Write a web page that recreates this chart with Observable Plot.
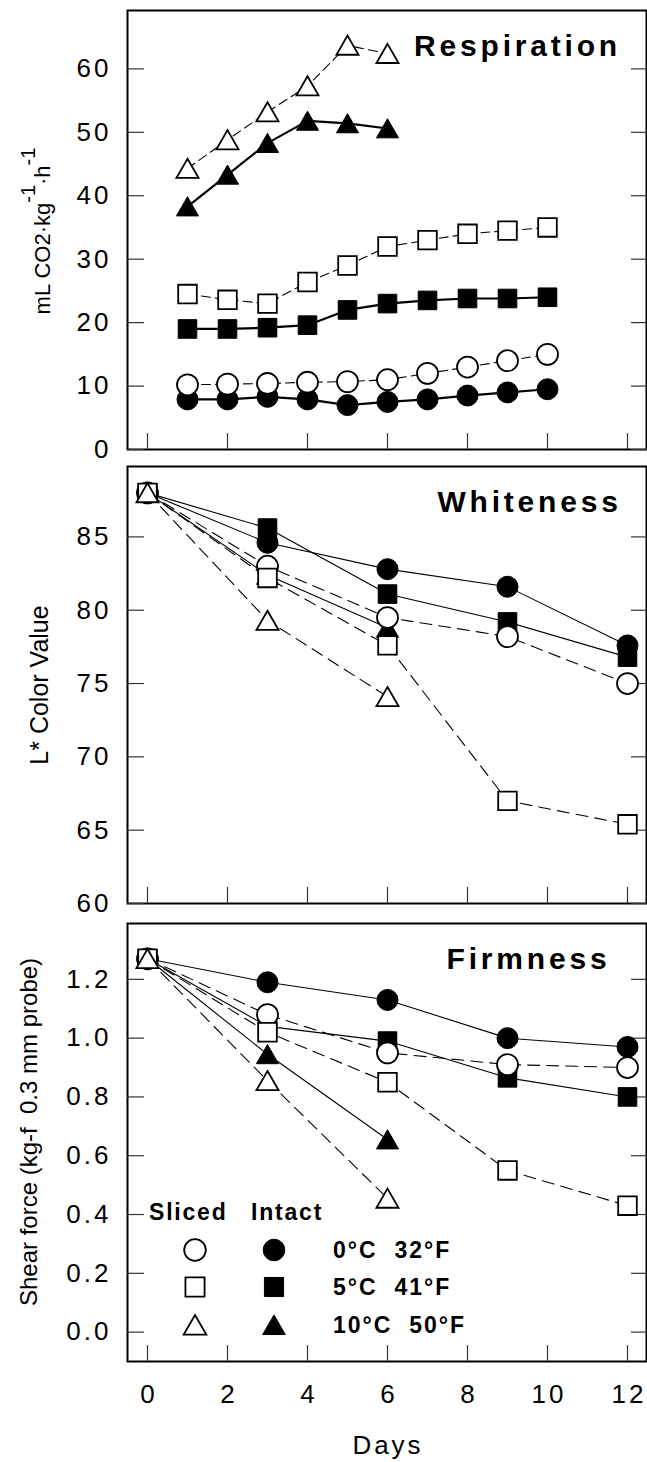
<!DOCTYPE html>
<html>
<head>
<meta charset="utf-8">
<script src="https://cdn.jsdelivr.net/npm/d3@7"></script>
<script src="https://cdn.jsdelivr.net/npm/@observablehq/plot@0.6"></script>
<style>
html, body { margin: 0; padding: 0; background: #fff; }
#chart { position: relative; width: 647px; height: 1462px; overflow: hidden; }
#chart svg { display: block; }
</style>
</head>
<body>
<div id="chart"></div>
<script>
// ---------- DATA ----------
const respDays      = [1, 2, 3, 4, 5, 6, 7, 8, 9, 10];
const respDays10C   = [1, 2, 3, 4, 5, 6];
const respSliced0C  = [10.2, 10.3, 10.4, 10.6, 10.7, 11.0, 12.0, 13.0, 14.0, 15.0];
const respIntact0C  = [7.9, 7.9, 8.3, 7.9, 7.0, 7.5, 7.9, 8.5, 9.0, 9.5];
const respSliced5C  = [24.5, 23.6, 23.0, 26.4, 29.0, 32.0, 33.0, 34.0, 34.5, 35.0];
const respIntact5C  = [19.0, 19.0, 19.2, 19.6, 22.0, 23.0, 23.5, 23.8, 23.8, 24.0];
const respSliced10C = [44.3, 48.8, 53.2, 57.3, 63.7, 62.4];
const respIntact10C = [38.3, 43.3, 48.3, 51.8, 51.4, 50.6];

const qualDays    = [0, 3, 6, 9, 12];
const qualDays10C = [0, 3, 6];
const whiteSliced0C  = [88, 83.0, 79.5, 78.2, 75.0];
const whiteIntact0C  = [88, 84.6, 82.8, 81.6, 77.6];
const whiteSliced5C  = [88, 82.2, 77.6, 67.0, 65.4];
const whiteIntact5C  = [88, 85.6, 81.1, 79.2, 76.8];
const whiteSliced10C = [88, 79.3, 74.1];
const whiteIntact10C = [88, 82.4, 78.8];

const firmSliced0C  = [1.27, 1.08, 0.95, 0.91, 0.90];
const firmIntact0C  = [1.27, 1.19, 1.13, 1.00, 0.97];
const firmSliced5C  = [1.27, 1.02, 0.85, 0.55, 0.43];
const firmIntact5C  = [1.27, 1.04, 0.99, 0.865, 0.80];
const firmSliced10C = [1.27, 0.855, 0.455];
const firmIntact10C = [1.27, 0.945, 0.655];

const respTicks  = [0, 10, 20, 30, 40, 50, 60];
const whiteTicks = [60, 65, 70, 75, 80, 85];
const firmTicks  = [0, 0.2, 0.4, 0.6, 0.8, 1.0, 1.2];
const dayTicks   = [0, 2, 4, 6, 8, 10, 12];

const legendHeaders = ["Sliced", "Intact"];
const legendLabels  = ["0°C\u00A0\u00A032°F", "5°C\u00A0\u00A041°F", "10°C\u00A0\u00A050°F"];

// ---------- HELPERS ----------
const FONT = "'Liberation Sans', Arial, Helvetica, sans-serif";
const W = 647, ML = 127, MR = 1;
const X_DOMAIN = [-0.5, 12.475];
const TICK_FONT = 26;

const kinds = [
  {id: "i10", symbol: "triangle", filled: true},
  {id: "i0",  symbol: "circle",   filled: true},
  {id: "i5",  symbol: "square",   filled: true},
  {id: "s0",  symbol: "circle",   filled: false},
  {id: "s5",  symbol: "square",   filled: false},
  {id: "s10", symbol: "triangle", filled: false}
];

function rows(days, values) {
  return days.map((d, i) => ({day: d, value: values[i]}));
}

function panel(o) {
  const marks = [];
  for (const k of kinds) {
    marks.push(Plot.line(o.data[k.id], {
      x: "day", y: "value", stroke: "black",
      strokeWidth: k.filled ? o.intactWidth : 1.1,
      strokeDasharray: k.filled ? undefined : o.dash
    }));
  }
  marks.push(Plot.frame({stroke: "black", strokeWidth: 2}));
  marks.push(Plot.axisY({anchor: "left", ticks: o.yTicks, tickSize: -17, fill: "none", stroke: "#333", strokeWidth: 1.2, label: null}));
  marks.push(Plot.axisY({anchor: "right", ticks: o.yTicks, tickSize: -16, fill: "none", stroke: "#333", strokeWidth: 1.2, label: null}));
  marks.push(Plot.axisY({anchor: "left", ticks: o.yTicks, tickSize: 0, tickPadding: 16, tickFormat: o.yFormat, fill: "black", fontSize: TICK_FONT, label: null}));
  marks.push(Plot.axisX({anchor: "bottom", ticks: dayTicks, tickSize: -16, fill: "none", stroke: "#333", strokeWidth: 1.2, label: null}));
  if (o.bottomLabels) {
    marks.push(Plot.axisX({anchor: "bottom", ticks: dayTicks, tickSize: 0, tickPadding: 23, dx: 1.5, fill: "black", fontSize: TICK_FONT, label: null}));
    marks.push(Plot.text(["Days"], {text: d => d, frameAnchor: "bottom", dx: 1, dy: 92, lineAnchor: "bottom", fill: "black", fontSize: 26}));
  }
  for (const k of kinds) {
    const tri = k.symbol === "triangle";
    marks.push(Plot.dot(o.data[k.id], {
      x: "day", y: "value", symbol: k.symbol,
      r: tri ? 8.2 : 10.5,
      fill: k.filled ? "black" : "white",
      stroke: "black", strokeWidth: k.filled ? 1 : 1.8,
      dy: tri ? 3 : 0
    }));
  }
  marks.push(Plot.text([o.title], {
    text: d => d, frameAnchor: "top-left", dx: o.titleDx, dy: 45,
    textAnchor: "middle", lineAnchor: "bottom", fontSize: 30, fontWeight: "bold", fill: "black"
  }));
  const svg = Plot.plot({
    width: W, height: o.height,
    marginLeft: ML, marginRight: MR, marginTop: o.marginTop, marginBottom: o.marginBottom,
    x: {domain: X_DOMAIN},
    y: {domain: o.yDomain},
    style: {fontFamily: FONT, fontSize: "26px", letterSpacing: "3px", color: "black", background: "white", overflow: "visible"},
    marks
  });
  svg.querySelectorAll("text").forEach(t => {
    if (t.textContent === o.title) t.style.letterSpacing = "3.8px";
  });
  return svg;
}

function yLabel(svg, x, y, parts, size) {
  const t = d3.select(svg).append("text")
    .attr("transform", `translate(${x},${y}) rotate(-90)`)
    .attr("text-anchor", "middle")
    .attr("font-size", size)
    .attr("fill", "black")
    .style("letter-spacing", "0px");
  for (const p of parts) {
    const s = t.append("tspan").text(p.t);
    if (p.dy) s.attr("dy", p.dy);
    if (p.size) s.attr("font-size", p.size);
  }
}

// ---------- PANELS ----------
const chart = document.getElementById("chart");

const p1 = panel({
  height: 458, marginTop: 10, marginBottom: 9,
  yDomain: [0, 69.2], yTicks: respTicks, yFormat: d => String(d),
  intactWidth: 2.2, dash: "9,5",
  title: "Respiration", titleDx: 390,
  data: {
    i0: rows(respDays, respIntact0C), s0: rows(respDays, respSliced0C),
    i5: rows(respDays, respIntact5C), s5: rows(respDays, respSliced5C),
    i10: rows(respDays10C, respIntact10C), s10: rows(respDays10C, respSliced10C)
  }
});
chart.appendChild(p1);
yLabel(p1, 50, 231, [
  {t: "mL CO2·kg"}, {t: "-1", dy: -15, size: 20}, {t: "·h", dy: 15}, {t: "-1", dy: -15, size: 20}
], 22);

const p2 = panel({
  height: 455, marginTop: 8, marginBottom: 10,
  yDomain: [60, 89.8], yTicks: whiteTicks, yFormat: d => String(d),
  intactWidth: 1.1, dash: "12,7",
  title: "Whiteness", titleDx: 402,
  data: {
    i0: rows(qualDays, whiteIntact0C), s0: rows(qualDays, whiteSliced0C),
    i5: rows(qualDays, whiteIntact5C), s5: rows(qualDays, whiteSliced5C),
    i10: rows(qualDays10C, whiteIntact10C), s10: rows(qualDays10C, whiteSliced10C)
  }
});
chart.appendChild(p2);
yLabel(p2, 47.5, 227, [{t: "L* Color Value"}], 25);

const p3 = panel({
  height: 549, marginTop: 10, marginBottom: 101,
  yDomain: [-0.1, 1.39], yTicks: firmTicks, yFormat: d => d.toFixed(1),
  intactWidth: 1.1, dash: "12,7",
  title: "Firmness", titleDx: 401, bottomLabels: true,
  data: {
    i0: rows(qualDays, firmIntact0C), s0: rows(qualDays, firmSliced0C),
    i5: rows(qualDays, firmIntact5C), s5: rows(qualDays, firmSliced5C),
    i10: rows(qualDays10C, firmIntact10C), s10: rows(qualDays10C, firmSliced10C)
  }
});
chart.appendChild(p3);
yLabel(p3, 37, 219, [{t: "Shear force (kg-f\u00A0\u00A00.3 mm probe)"}], 24);

// ---------- LEGEND (inside Firmness panel) ----------
(function legend() {
  const g = d3.select(p3).append("g")
    .attr("font-weight", "bold").attr("font-size", 23).attr("fill", "black")
    .attr("text-anchor", "start")
    .style("letter-spacing", "1.8px");
  g.append("text").attr("x", 149).attr("y", 307).attr("text-anchor", "start").text(legendHeaders[0]);
  g.append("text").attr("x", 251).attr("y", 307).attr("text-anchor", "start").text(legendHeaders[1]);
  const types = [d3.symbolCircle, d3.symbolSquare, d3.symbolTriangle];
  const rowY = [337, 374, 412];
  legendLabels.forEach((lab, i) => {
    const tri = i === 2;
    const r = tri ? 8.4 : 10.8;
    const path = d3.symbol().type(types[i]).size(Math.PI * r * r)();
    const cy = rowY[i] + (tri ? 3 : 0);
    g.append("path").attr("d", path).attr("transform", `translate(195,${cy})`).attr("fill", "white").attr("stroke", "black").attr("stroke-width", 1.8);
    g.append("path").attr("d", path).attr("transform", `translate(274,${cy})`).attr("fill", "black").attr("stroke", "black").attr("stroke-width", 1);
    g.append("text").attr("x", 333).attr("y", rowY[i] + 8).attr("text-anchor", "start").style("letter-spacing", "2px").text(lab);
  });
})();
</script>
</body>
</html>
